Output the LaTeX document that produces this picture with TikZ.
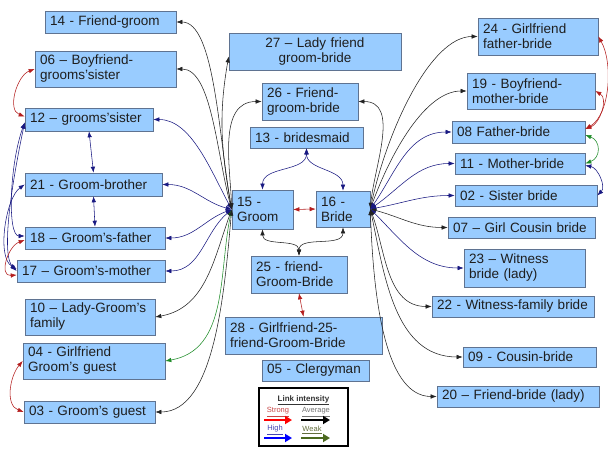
\documentclass[tikz,border=0pt]{standalone}
\usepackage{fontspec}
\setmainfont{Liberation Sans}
\usetikzlibrary{arrows.meta}
\definecolor{boxfill}{RGB}{153,204,255}
\definecolor{boxline}{RGB}{95,115,145}
\definecolor{txt}{RGB}{30,30,30}
\definecolor{avgc}{RGB}{35,35,35}
\definecolor{highc}{RGB}{25,25,130}
\definecolor{weakc}{RGB}{30,140,40}
\definecolor{strongc}{RGB}{180,30,30}
\definecolor{legred}{RGB}{255,0,0}
\definecolor{legblue}{RGB}{0,0,255}
\definecolor{legolive}{RGB}{75,105,30}
\begin{document}
\begin{tikzpicture}[x=1pt,y=1pt,
  bx/.style={draw=boxline, fill=boxfill, line width=0.6pt, inner xsep=5pt, inner ysep=2pt,
    align=left, font=\fontsize{13.5}{15}\selectfont, text=txt},
  link/.style={line width=0.55pt, {Latex[length=6pt,width=4.5pt]}-{Latex[length=6pt,width=4.5pt]}},
  lavg/.style={link, avgc},
  lhigh/.style={link, highc},
  lweak/.style={link, weakc},
  lstrong/.style={link, strongc},
  legtxt/.style={font=\fontsize{7.5}{8}\selectfont, inner sep=0pt},
  legarrow/.style={line width=2.6pt, -{Triangle[length=7pt,width=8pt]}}
]
\useasboundingbox (0,0) rectangle (608,-449);
\fill[white] (0,0) rectangle (608,-449);

% left column
\node[bx, minimum width=131pt, minimum height=22pt, text width=121pt] (n14) at (110.5,-22) {14 - Friend-groom};
\node[bx, minimum width=141pt, minimum height=36pt, text width=131pt] (n06) at (105.5,-69) {06 – Boyfriend-\\grooms'sister};
\node[bx, minimum width=128pt, minimum height=23pt, text width=118pt] (n12) at (89,-119.5) {12 – grooms'sister};
\node[bx, minimum width=137pt, minimum height=23pt, text width=127pt] (n21) at (93.5,-184.5) {21 - Groom-brother};
\node[bx, minimum width=140pt, minimum height=22pt, text width=130pt] (n18) at (95,-238) {18 – Groom's-father};
\node[bx, minimum width=148pt, minimum height=22pt, text width=138pt] (n17) at (91,-271) {17 – Groom's-mother};
\node[bx, minimum width=130pt, minimum height=36pt, text width=120pt] (n10) at (90,-317) {10 – Lady-Groom's\\family};
\node[bx, minimum width=142pt, minimum height=36pt, text width=132pt] (n04) at (94,-361) {04 - Girlfriend\\Groom's guest};
\node[bx, minimum width=131pt, minimum height=22pt, text width=121pt] (n03) at (89.5,-412) {03 - Groom's guest};

% centre
\node[bx, align=center, minimum width=172pt, minimum height=37pt, text width=162pt] (n27) at (315,-51.5) {27 – Lady friend\\groom-bride};
\node[bx, minimum width=96pt, minimum height=37pt, text width=86pt] (n26) at (310,-101.5) {26 - Friend-\\groom-bride};
\node[bx, minimum width=113pt, minimum height=21pt, text width=103pt] (n13) at (306.5,-137.5) {13 - bridesmaid};
\node[bx, minimum width=61pt, minimum height=39pt, text width=51pt] (n15) at (262.5,-209.5) {15 -\\Groom};
\node[bx, minimum width=54pt, minimum height=36pt, text width=44pt] (n16) at (343,-209) {16 -\\Bride};
\node[bx, minimum width=96pt, minimum height=37pt, text width=86pt] (n25) at (299,-274.5) {25 - friend-\\Groom-Bride};
\node[bx, minimum width=157pt, minimum height=37pt, text width=147pt] (n28) at (303.5,-335.5) {28 - Girlfriend-25-\\friend-Groom-Bride};
\node[bx, minimum width=107pt, minimum height=21pt, text width=97pt] (n05) at (315.5,-370.5) {05 - Clergyman};

% right column
\node[bx, minimum width=120pt, minimum height=37pt, text width=110pt] (n24) at (538,-36.5) {24 - Girlfriend\\father-bride};
\node[bx, minimum width=128pt, minimum height=36pt, text width=118pt] (n19) at (531,-91) {19 - Boyfriend-\\mother-bride};
\node[bx, minimum width=133pt, minimum height=22pt, text width=123pt] (n08) at (518.5,-132) {08 Father-bride};
\node[bx, minimum width=130pt, minimum height=21pt, text width=120pt] (n11) at (520,-163.5) {11 - Mother-bride};
\node[bx, minimum width=142pt, minimum height=21pt, text width=132pt] (n02) at (526,-195.5) {02 - Sister bride};
\node[bx, minimum width=147pt, minimum height=21pt, text width=137pt] (n07) at (521.5,-227.5) {07 – Girl Cousin bride};
\node[bx, minimum width=121pt, minimum height=38pt, text width=111pt] (n23) at (524.5,-268) {23 – Witness\\bride (lady)};
\node[bx, minimum width=162pt, minimum height=21pt, text width=152pt] (n22) at (513,-306.5) {22 - Witness-family bride};
\node[bx, minimum width=133pt, minimum height=20pt, text width=123pt] (n09) at (529.5,-357) {09 - Cousin-bride};
\node[bx, minimum width=162pt, minimum height=21pt, text width=152pt] (n20) at (518,-396.5) {20 – Friend-bride (lady)};

% groom fan
\draw[lavg] (n15.west) to[out=100,in=0,in looseness=0.5] (n14.east);
\draw[lavg] (n15.west) to[out=105,in=0,in looseness=0.6] (n06.east);
\draw[lhigh] (n15.west) to[out=118,in=0,in looseness=0.8] (n12.east);
\draw[lhigh] (n15.west) to[out=165,in=0] (n21.east);
\draw[lhigh] (n15.west) to[out=200,in=0] (n18.east);
\draw[lhigh] (n15.west) to[out=220,in=0] (n17.east);
\draw[lavg] (n15.west) to[out=250,in=10] (n10.east);
\draw[lweak] (n15.west) to[out=258,in=10] (n04.east);
\draw[lavg] (n15.west) to[out=265,in=0,in looseness=0.7] (n03.east);
\draw[lavg] (n15.west) to[out=100,in=260] ([yshift=-5pt]n27.west);
\draw[lavg] (n15.west) to[out=92,in=180] (n26.west);

% bride fan
\draw[lavg] (n16.east) to[out=85,in=0] (n26.east);
\draw[lavg] (n16.east) to[out=78,in=180,in looseness=0.6] (n24.west);
\draw[lavg] (n16.east) to[out=70,in=180,in looseness=0.7] (n19.west);
\draw[lhigh] (n16.east) to[out=55,in=180] (n08.west);
\draw[lhigh] (n16.east) to[out=35,in=180] (n11.west);
\draw[lhigh] (n16.east) to[out=10,in=180] (n02.west);
\draw[lavg] (n16.east) to[out=-15,in=180] (n07.west);
\draw[lhigh] (n16.east) to[out=-45,in=180] (n23.west);
\draw[lavg] (n16.east) to[out=-70,in=180] (n22.west);
\draw[lavg] (n16.east) to[out=-78,in=180] (n09.west);
\draw[lavg] (n16.east) to[out=-88,in=180,in looseness=0.7] (n20.west);

% left side arcs
\draw[lstrong] (n06.west) to[out=200,in=160] ([yshift=3pt]n12.west);
\draw[lhigh] (n12.south) -- (n21.north);
\draw[lhigh] (n21.south) -- (n18.north);
\draw[lhigh] ([yshift=-3pt]n12.west) to[out=250,in=180,in looseness=0.4] ([yshift=2pt]n18.west);
\draw[lhigh] ([yshift=-3pt]n12.west) to[out=258,in=135,in looseness=0.4] (n17.west);
\draw[lhigh] (n21.west) to[out=215,in=150,looseness=0.7] ([yshift=2pt]n17.west);
\draw[lstrong] ([yshift=-2pt]n18.west) to[out=200,in=185,looseness=1.3] ([yshift=-4pt]n17.west);
\draw[lstrong] (n04.west) to[out=230,in=160] (n03.west);

% centre links
\draw[lhigh] (n13.south) to[out=-90,in=90] (n15.north);
\draw[lhigh] (n13.south) to[out=-90,in=90] (n16.north);
\draw[lstrong] (n15.east) -- (n16.west);
\draw[lavg] (n15.south) to[out=-90,in=90] (n25.north);
\draw[lavg] (n16.south) to[out=-90,in=90] (n25.north);
\draw[lstrong] (n25.south) -- (n28.north);

% right side arcs
\draw[lstrong] (n24.east) to[out=-60,in=30,looseness=0.8] ([yshift=3pt]n08.east);
\draw[lstrong] (n19.east) to[out=-30,in=20] ([yshift=3pt]n08.east);
\draw[lweak] ([yshift=-3pt]n08.east) to[out=-20,in=20,looseness=1.5] (n11.east);
\draw[lhigh] ([yshift=-2pt]n11.east) to[out=-10,in=45] (n02.east);

% legend
\node[draw=black, line width=2pt, fill=white, minimum width=89pt, minimum height=58pt] (leg) at (303.5,-417) {};
\node[legtxt, font=\bfseries\fontsize{8}{9}\selectfont, text=black!80] (legt) at (303.5,-400) {\underline{Link intensity}};
\node[legtxt, text={rgb,255:red,200;green,70;blue,70}] (lstr) at (278,-412) {\underline{Strong}};
\node[legtxt, text=black!55] (lav) at (316,-412) {\underline{Average}};
\node[legtxt, text={rgb,255:red,70;green,70;blue,180}] (lhi) at (275,-430) {\underline{High}};
\node[legtxt, text={rgb,255:red,100;green,110;blue,60}] (lwk) at (312,-430) {\underline{Weak}};
\coordinate (s1) at (264,-420); \coordinate (s2) at (292,-420);
\coordinate (a1) at (301,-420); \coordinate (a2) at (330,-420);
\coordinate (h1) at (264,-438); \coordinate (h2) at (292,-438);
\coordinate (w1) at (301,-438); \coordinate (w2) at (330,-438);
\draw[legarrow, legred] (s1) -- (s2);
\draw[legarrow, black] (a1) -- (a2);
\draw[legarrow, legblue] (h1) -- (h2);
\draw[legarrow, legolive] (w1) -- (w2);
\end{tikzpicture}
\end{document}
